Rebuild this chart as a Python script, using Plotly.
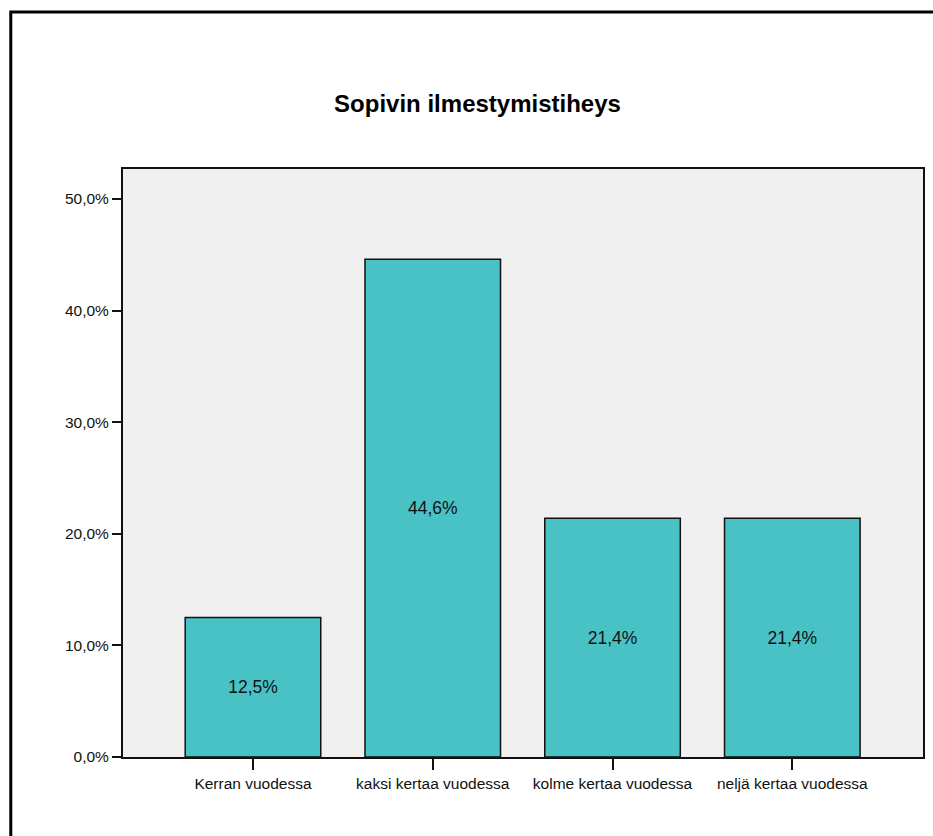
import plotly.graph_objects as go

# Survey result: preferred publication frequency (share of respondents, %)
categories = ["Kerran vuodessa", "kaksi kertaa vuodessa", "kolme kertaa vuodessa", "neljä kertaa vuodessa"]
shares = [12.5, 44.6, 21.4, 21.4]
y_ticks = [0, 10, 20, 30, 40, 50]
y_tick_labels = ["0,0%", "10,0%", "20,0%", "30,0%", "40,0%", "50,0%"]
title_text = "Sopivin ilmestymistiheys"

W, H = 933, 836
M_L, M_R, M_T, M_B = 123, 8, 169, 79
plot_w = W - M_L - M_R
plot_h = H - M_T - M_B


def px_to_paper_x(px):
    return (px - M_L) / plot_w


def px_to_paper_y(py):
    return (H - M_B - py) / plot_h


font_family = "Liberation Sans, Arial, sans-serif"

fig = go.Figure(
    go.Bar(
        x=list(range(len(categories))),
        y=shares,
        marker=dict(color="#49C2C6", line=dict(color="#111111", width=1.5)),
        texttemplate="%{y:.1f}%",
        textposition="inside",
        insidetextanchor="middle",
        textfont=dict(family=font_family, size=17.5, color="#111111"),
        hoverinfo="skip",
    )
)

# Outer chart frame (left and top edges visible in the canvas)
fx = px_to_paper_x(10.5)
fy = px_to_paper_y(12)
fig.add_shape(
    type="path",
    xref="paper",
    yref="paper",
    path=f"M {fx},{px_to_paper_y(H + 20)} L {fx},{fy} L {px_to_paper_x(W + 20)},{fy}",
    line=dict(color="#000000", width=3),
    layer="above",
)

fig.update_layout(
    width=W,
    height=H,
    margin=dict(l=M_L, r=M_R, t=M_T, b=M_B, pad=0),
    paper_bgcolor="#FFFFFF",
    plot_bgcolor="#F0F0F0",
    separators=",.",
    showlegend=False,
    bargap=0.246,
    font=dict(family=font_family, size=15.5, color="#111111"),
    title=dict(
        text=f"<b>{title_text}</b>",
        x=477.5 / W,
        xanchor="center",
        xref="container",
        y=1 - 104 / H,
        yanchor="middle",
        yref="container",
        font=dict(family=font_family, size=24, color="#000000"),
    ),
    xaxis=dict(
        range=[-0.723, 3.727],
        tickmode="array",
        tickvals=list(range(len(categories))),
        ticktext=categories,
        tickfont=dict(family=font_family, size=15.5, color="#111111"),
        ticks="outside",
        ticklen=11,
        tickwidth=1.5,
        tickcolor="#111111",
        showline=True,
        linecolor="#111111",
        linewidth=2,
        mirror=True,
        showgrid=False,
        zeroline=False,
        fixedrange=True,
    ),
    yaxis=dict(
        range=[0, 52.69],
        tickmode="array",
        tickvals=y_ticks,
        ticktext=y_tick_labels,
        tickfont=dict(family=font_family, size=15.5, color="#111111"),
        ticks="outside",
        ticklen=9,
        tickwidth=2,
        tickcolor="#111111",
        showline=True,
        linecolor="#111111",
        linewidth=2,
        mirror=True,
        showgrid=False,
        zeroline=False,
        fixedrange=True,
    ),
)

fig.write_html("out.html")
